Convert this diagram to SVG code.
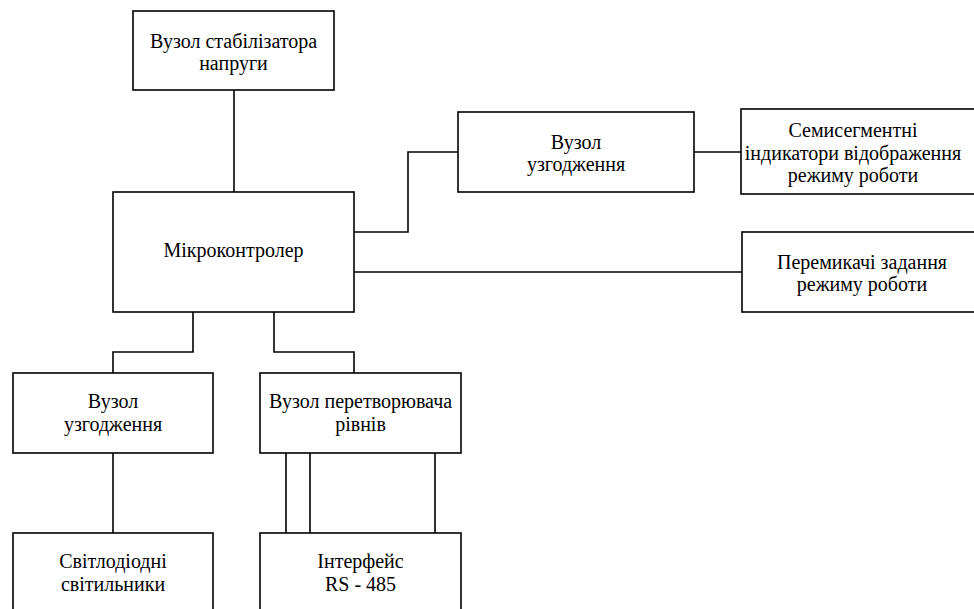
<svg xmlns="http://www.w3.org/2000/svg" width="974" height="609" viewBox="0 0 974 609">
<rect width="974" height="609" fill="#fff"/>
<g id="connectors" fill="none" stroke="#000" stroke-width="1.6">
<path d="M234 90V192"/>
<path d="M354 232H408V152H458"/>
<path d="M694 152H741"/>
<path d="M354 272H742"/>
<path d="M193 312V352H113V373"/>
<path d="M274 312V352H354V373"/>
<path d="M113 453V533"/>
<path d="M286 453V533M310 453V533M435 453V533"/>
</g>
<g id="nodes" fill="#fff" stroke="#000" stroke-width="1.6">
<g id="stab"><rect x="133" y="11" width="201" height="79"/></g>
<g id="mcu"><rect x="113" y="192" width="241" height="120"/></g>
<g id="match1"><rect x="458" y="112" width="236" height="80"/></g>
<g id="indicators"><rect x="741" y="109" width="240" height="85"/></g>
<g id="switches"><rect x="742" y="232" width="240" height="80"/></g>
<g id="match2"><rect x="13" y="373" width="200" height="80"/></g>
<g id="converter"><rect x="260" y="373" width="201" height="80"/></g>
<g id="leds"><rect x="13" y="533" width="200" height="90"/></g>
<g id="rs485"><rect x="260" y="533" width="201" height="90"/></g>
</g>
<g id="labels" fill="#000" text-anchor="middle" font-size="20">
<text style="font-family:'Liberation Serif',serif" x="233.5" y="47.5">Вузол стабілізатора</text>
<text style="font-family:'Liberation Serif',serif" x="233.5" y="70">напруги</text>
<text style="font-family:'Liberation Serif',serif" x="233.5" y="257">Мікроконтролер</text>
<text style="font-family:'Liberation Serif',serif" x="576" y="148.5">Вузол</text>
<text style="font-family:'Liberation Serif',serif" x="576" y="171">узгодження</text>
<text style="font-family:'Liberation Serif',serif" x="853" y="137">Семисегментні</text>
<text style="font-family:'Liberation Serif',serif" x="853" y="159.5">індикатори відображення</text>
<text style="font-family:'Liberation Serif',serif" x="853" y="182">режиму роботи</text>
<text style="font-family:'Liberation Serif',serif" x="862" y="268.5">Перемикачі задання</text>
<text style="font-family:'Liberation Serif',serif" x="862" y="291">режиму роботи</text>
<text style="font-family:'Liberation Serif',serif" x="113" y="408">Вузол</text>
<text style="font-family:'Liberation Serif',serif" x="113" y="430.5">узгодження</text>
<text style="font-family:'Liberation Serif',serif" x="360.5" y="408">Вузол перетворювача</text>
<text style="font-family:'Liberation Serif',serif" x="360.5" y="430.5">рівнів</text>
<text style="font-family:'Liberation Serif',serif" x="113" y="568">Світлодіодні</text>
<text style="font-family:'Liberation Serif',serif" x="113" y="591">світильники</text>
<text style="font-family:'Liberation Serif',serif" x="360.5" y="568">Інтерфейс</text>
<text style="font-family:'Liberation Serif',serif" x="360.5" y="591">RS - 485</text>
</g>
</svg>
